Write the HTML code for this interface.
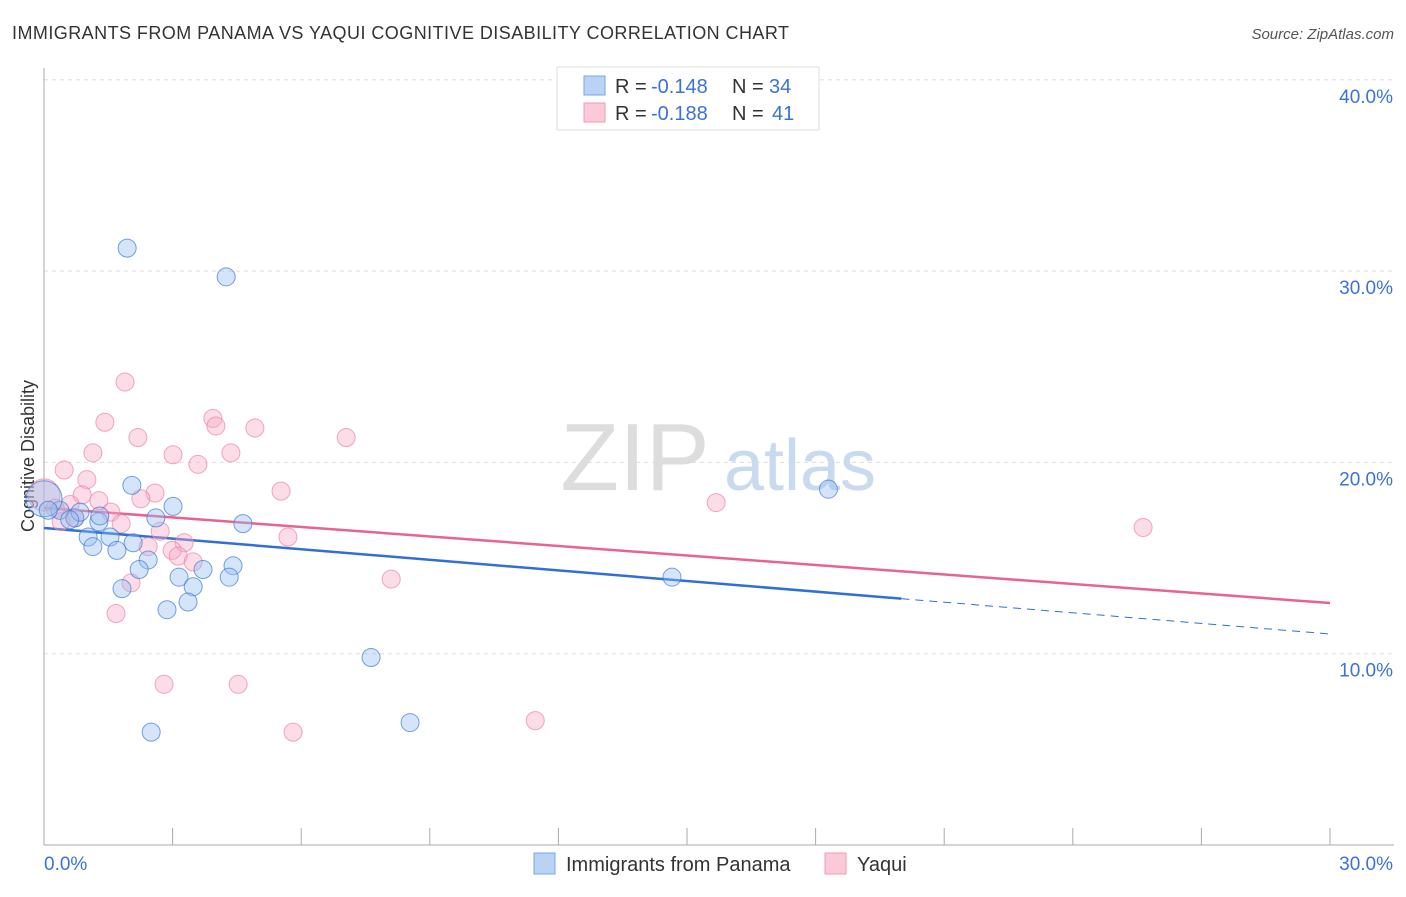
<!DOCTYPE html>
<html><head><meta charset="utf-8"><style>
body{margin:0;background:#fff;font-family:"Liberation Sans",sans-serif;}
svg text{font-family:"Liberation Sans",sans-serif;}
</style></head><body>
<svg id="chart" width="1406" height="892">
<text x="12" y="39" font-size="18" fill="#333" textLength="777">IMMIGRANTS FROM PANAMA VS YAQUI COGNITIVE DISABILITY CORRELATION CHART</text>
<text x="1394" y="39" font-size="15" fill="#555" text-anchor="end" font-style="italic">Source: ZipAtlas.com</text>
<text x="34" y="456" font-size="18" fill="#333" text-anchor="middle" transform="rotate(-90 34 456)">Cognitive Disability</text>
<g><text x="635" y="490" font-size="96" fill="#ddd" text-anchor="middle" font-family="Liberation Serif">ZIP</text><text x="800" y="490" font-size="72" fill="#c8d9f0" text-anchor="middle">atlas</text></g>
<g id="grid"></g><g id="axes"></g><g id="lines"></g><g id="pts"></g>
<g>
<rect x="557" y="67" width="262" height="63" fill="#fff" stroke="#ddd"/>
<rect x="584" y="76" width="21" height="19" fill="#b9d3f5" stroke="#7aa6e6"/>
<rect x="584" y="103" width="21" height="19" fill="#fbc9d7" stroke="#f09ab3"/>
<text x="615" y="93" font-size="20" fill="#333">R =</text><text x="651" y="93" font-size="20" fill="#3a72d8">-0.148</text>
<text x="732" y="93" font-size="20" fill="#333">N =</text><text x="769" y="93" font-size="20" fill="#3a72d8">34</text>
<text x="615" y="120" font-size="20" fill="#333">R =</text><text x="651" y="120" font-size="20" fill="#3a72d8">-0.188</text>
<text x="732" y="120" font-size="20" fill="#333">N =</text><text x="772" y="120" font-size="20" fill="#3a72d8">41</text>
</g>
<g>
<rect x="534" y="853" width="21" height="21" fill="#b9d3f5" stroke="#7aa6e6"/>
<text x="566" y="871" font-size="20" fill="#333">Immigrants from Panama</text>
<rect x="825" y="853" width="21" height="21" fill="#fbc9d7" stroke="#f09ab3"/>
<text x="857" y="871" font-size="20" fill="#333">Yaqui</text>
</g>
</svg>
<script>
const yTicks=[10,20,30,40];
const yTickLabels=["10.0%","20.0%","30.0%","40.0%"];
const xTickLabels=["0.0%","30.0%"];
const blueX=[1.94,4.25,2.05,3.01,18.3,2.61,4.64,1.28,0.72,0.37,0.84,1.03,1.54,1.14,2.08,1.70,2.43,2.22,4.41,3.71,3.15,4.32,3.48,1.82,14.65,3.36,2.87,7.63,8.54,2.50,0,0.1,0.6,1.3];
const blueY=[31.2,29.7,18.8,17.7,18.6,17.1,16.8,16.9,17.1,17.5,17.4,16.1,16.1,15.6,15.8,15.4,14.9,14.4,14.6,14.4,14.0,14.0,13.5,13.4,14.0,12.7,12.3,9.8,6.4,5.9,18.1,17.5,17.0,17.2];
const blueR=[9,9,9,9,9,9,9,9,9,9,9,9,9,9,9,9,9,9,9,9,9,9,9,9,9,9,9,9,9,9,18,9,9,9];
const pinkX=[1.89,1.42,3.94,4.01,4.92,2.19,7.05,1.14,3.01,4.36,3.59,0.47,1.0,5.53,2.59,0.89,2.26,1.28,15.68,0.61,1.56,1.80,2.71,25.64,5.69,3.27,2.43,2.99,3.13,3.48,8.1,2.03,1.68,2.8,4.53,5.81,11.46,0,0.26,0.72,0.4];
const pinkY=[24.2,22.1,22.3,21.9,21.8,21.3,21.3,20.5,20.4,20.5,19.9,19.6,19.1,18.5,18.4,18.3,18.1,18.0,17.9,17.8,17.4,16.8,16.4,16.6,16.1,15.8,15.6,15.4,15.1,14.8,13.9,13.7,12.1,8.4,8.4,5.9,6.5,18.3,17.6,17.1,16.9];
const blueTrend=[16.57,11.03], blueSolidEnd=20;
const pinkTrend=[17.62,12.65];
const NS="http://www.w3.org/2000/svg";
const X=v=>44+v/30*1286, Y=v=>845-v*19.13;
function mk(p,t,a){const e=document.createElementNS(NS,t);for(const k in a)e.setAttribute(k,a[k]);document.getElementById(p).appendChild(e);return e;}
yTicks.forEach((t,i)=>{
 const g=mk('grid','line',{x1:44,x2:1394,y1:Y(t),y2:Y(t),stroke:'#ddd','stroke-dasharray':'4,4'});
 
 
 const l=mk('axes','text',{x:1393,y:Y(t)+23,'font-size':19,fill:'#3a72d8','text-anchor':'end'});l.textContent=yTickLabels[i];
 
 
});
const ax=mk('axes','line',{x1:44,x2:44,y1:68,y2:845,stroke:'#aaa'});


const bx=mk('axes','line',{x1:44,x2:1394,y1:845,y2:845,stroke:'#aaa'});


for(let i=0;i<=10;i++){mk('axes','line',{x1:X(i*3),x2:X(i*3),y1:828,y2:845,stroke:'#aaa'});}
xTickLabels.forEach((s,i)=>{const t=mk('axes','text',{x:i?1393:44,y:870,'font-size':19,fill:'#3a72d8','text-anchor':i?'end':'start'});t.textContent=s;
 
 });
const ty=(tr,x)=>tr[0]+(tr[1]-tr[0])*x/30;
let e=mk('lines','line',{x1:X(0),y1:Y(ty(blueTrend,0)),x2:X(blueSolidEnd),y2:Y(ty(blueTrend,blueSolidEnd)),stroke:'#2f6fd6','stroke-width':2.5});


e=mk('lines','line',{x1:X(blueSolidEnd),y1:Y(ty(blueTrend,blueSolidEnd)),x2:X(30),y2:Y(ty(blueTrend,30)),stroke:'#2f6fd6','stroke-width':1,'stroke-dasharray':'8,6'});


e=mk('lines','line',{x1:X(0),y1:Y(pinkTrend[0]),x2:X(30),y2:Y(pinkTrend[1]),stroke:'#e8648d','stroke-width':2.5});


pinkX.forEach((x,i)=>{const c=mk('pts','circle',{cx:X(x),cy:Y(pinkY[i]),r:i==37?16:9,fill:'rgba(248,170,195,0.4)',stroke:'rgba(235,130,165,0.7)'});
 
 });
blueX.forEach((x,i)=>{const c=mk('pts','circle',{cx:X(x),cy:Y(blueY[i]),r:blueR[i],fill:'rgba(150,190,240,0.4)',stroke:'rgba(60,120,220,0.7)'});
 
 });
</script>
</body></html>
